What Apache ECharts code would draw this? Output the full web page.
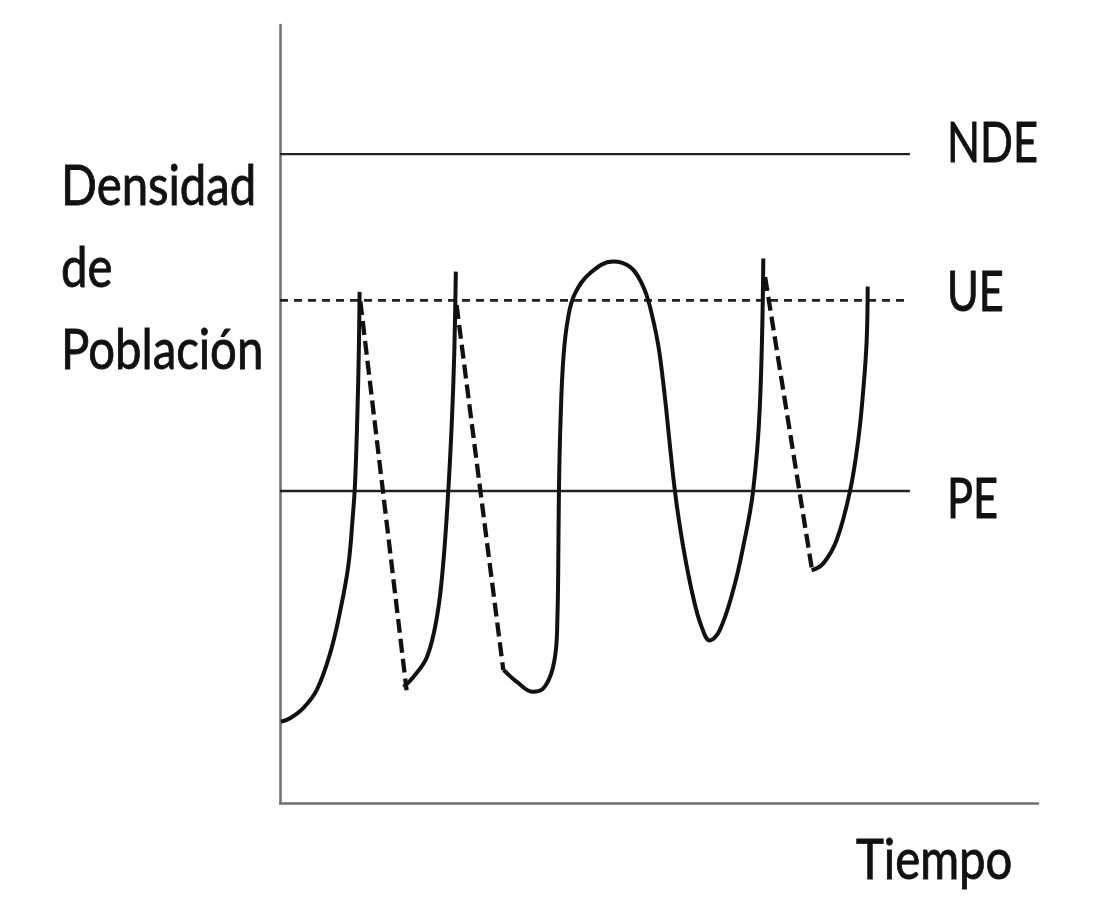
<!DOCTYPE html>
<html>
<head>
<meta charset="utf-8">
<script src="https://cdn.jsdelivr.net/npm/echarts@6/dist/echarts.min.js"></script>
<style>
html,body{margin:0;padding:0;background:#fff;}
#chart{width:1098px;height:910px;}
</style>
</head>
<body>
<div id="chart"></div>
<script>
// ---- data (x = tiempo 0..100, y = densidad 0..100) ----
const levelNames = ['NDE', 'UE', 'PE'];
const levelValues = [83.4, 64.6, 40.1];
const levelEndX = 83.1;

const growth1 = [[0.13,10.45],[1.32,10.9],[3.07,12.2],[4.84,14.5],[6.6,19.2],[7.9,24.5],[9.0,30.4],[9.6,36.8],[9.9,41.1],[10.2,49.7],[10.4,58.2],[10.5,65.7]];
const drop1 = [[10.6,64.5],[16.7,14.5]];
const growth2 = [[16.3,14.9],[17.6,16.2],[19.4,18.8],[20.7,23.9],[21.5,30.4],[22.2,40.1],[22.7,49.7],[23.0,58.2],[23.2,68.3]];
const drop2 = [[23.3,64.0],[29.46,17.1]];
const oscillation = [[29.5,17.1],[29.7,16.9],[31.2,15.6],[33.4,14.3],[34.7,14.7],[35.8,16.7],[36.4,19.7],[36.6,23.9],[36.7,29.5],[36.8,40.1],[37.0,48.8],[37.4,57.4],[38.03,62.5],[38.92,65.5],[40.9,68.1],[43.97,69.6],[46.17,68.9],[47.72,66.8],[48.81,63.8],[50.13,57.4],[52.1,40.1],[53.2,32.9],[54.5,26.5],[55.6,22.7],[56.7,20.9],[58.0,22.2],[59.8,27.4],[61.1,32.9],[62.4,40.0],[63.3,50.9],[63.76,70.0]];
const drop3 = [[64.0,67.6],[70.2,29.9]];
const growth3 = [[70.14,29.9],[71.68,30.8],[73.44,33.8],[75.2,40.1],[76.29,46.7],[76.95,53.1],[77.4,59.5],[77.53,66.4]];

const yTitle = 'Densidad\nde\nPoblación';
const xTitle = 'Tiempo';

// ---- chart ----
const FONT = 'Lato, "Open Sans", sans-serif';
const TXT = '#111';
const FS = 57, SX = 0.83, SX_LEVEL = 0.76;
const chart = echarts.init(document.getElementById('chart'), null, {renderer: 'canvas'});

const series = [];
levelNames.forEach((n, i) => {
  series.push({
    name: n, type: 'line', symbol: 'none', silent: true,
    data: [[0, levelValues[i]], [levelEndX, levelValues[i]]],
    lineStyle: {color: '#222', width: n === 'UE' ? 2.6 : 2.4, type: n === 'UE' ? [8, 6] : 'solid'}
  });
});
[growth1, growth2, oscillation, growth3].forEach((d, i) => {
  series.push({name: 'curva' + i, type: 'line', symbol: 'none', silent: true, smooth: 0.4,
    data: d, lineStyle: {color: '#111', width: 4}});
});
[drop1, drop2, drop3].forEach((d, i) => {
  series.push({name: 'caida' + i, type: 'line', symbol: 'none', silent: true,
    data: d, lineStyle: {color: '#111', width: 4.3, type: [14, 6]}});
});

chart.setOption({
  animation: false,
  backgroundColor: '#fff',
  grid: {left: 280, right: 60, top: 25, bottom: 107, containLabel: false},
  xAxis: {type: 'value', min: 0, max: 100,
    axisLine: {show: true, onZero: false, lineStyle: {color: '#707070', width: 2.5}},
    axisTick: {show: false}, axisLabel: {show: false}, splitLine: {show: false}},
  yAxis: {type: 'value', min: 0, max: 100,
    axisLine: {show: true, onZero: false, lineStyle: {color: '#707070', width: 2.5}},
    axisTick: {show: false}, axisLabel: {show: false}, splitLine: {show: false}},
  series: series
});

// labels placed from the axis scales
const labelOffsetY = [-11, -8, 9];
const txtStyle = {fontSize: FS, fill: TXT, stroke: TXT, lineWidth: 0.9, fontFamily: FONT, align: 'left'};
const graphics = levelNames.map((n, i) => {
  const p = chart.convertToPixel({gridIndex: 0}, [levelEndX, levelValues[i]]);
  return {type: 'text', x: p[0] + 37, y: p[1] + labelOffsetY[i], scaleX: SX_LEVEL,
    style: Object.assign({text: n, verticalAlign: 'middle'}, txtStyle)};
});
graphics.push({type: 'text', x: 61, y: 146, scaleX: SX,
  style: Object.assign({text: yTitle, lineHeight: 82, verticalAlign: 'top'}, txtStyle)});
graphics.push({type: 'text', x: 856, y: 861, scaleX: SX,
  style: Object.assign({text: xTitle, verticalAlign: 'middle'}, txtStyle)});
chart.setOption({graphic: graphics});
</script>
</body>
</html>
